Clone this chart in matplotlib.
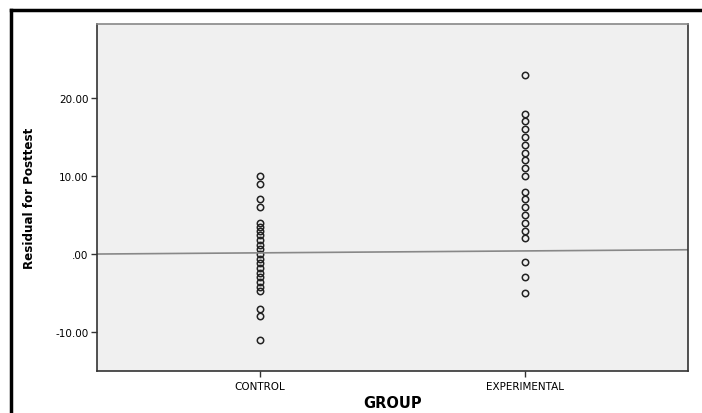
import matplotlib.pyplot as plt
import matplotlib.lines as mlines
import numpy as np

groups = ['CONTROL', 'EXPERIMENTAL']

control = [10, 9, 7, 6, 4, 3.5, 3, 2.4, 1.8, 1.2, 0.6, 0, -0.6, -1.2,
           -1.8, -2.4, -3, -3.6, -4.2, -4.8, -7, -8, -11]
experimental = [23, 18, 17, 16, 15, 14, 13, 12, 11, 10,
                8, 7, 6, 5, 4, 3, 2, -1, -3, -5]

# fit line ends (left / right edge of the axis)
line_ends = [0.0, 0.55]

fig = plt.figure(figsize=(7.02, 4.14), dpi=100)
ax = fig.add_axes([97/702, 1 - 372/414, (688-97)/702, (372-25)/414])
ax.set_facecolor('#f0f0f0')

xlim = (0.384, 2.616)
for i, vals in enumerate([control, experimental]):
    ax.plot([i + 1] * len(vals), vals, linestyle='none', marker='o',
            markersize=4.6, markerfacecolor='none', markeredgecolor='#222222',
            markeredgewidth=1.1)

ax.plot(xlim, line_ends, color='#888888', linewidth=1.2)

ax.set_xlim(*xlim)
ax.set_ylim(-15, 29.5)
ax.set_xticks([1, 2])
ax.set_xticklabels(groups, fontsize=7.5)
ax.set_yticks([-10, 0, 10, 20])
ax.set_yticklabels(['-10.00', '.00', '10.00', '20.00'], fontsize=7.5)
ax.tick_params(axis='both', direction='out', length=4, width=1, color='#333333')
ax.tick_params(axis='x', pad=3)
ax.tick_params(axis='y', pad=2)

for s in ['left', 'bottom']:
    ax.spines[s].set_color('#333333')
    ax.spines[s].set_linewidth(1.2)
ax.spines['top'].set_color('#888888')
ax.spines['top'].set_linewidth(1.2)
ax.spines['right'].set_color('#333333')
ax.spines['right'].set_linewidth(1.2)

ax.set_xlabel('GROUP', fontsize=10.5, fontweight='bold', labelpad=3)
ax.set_ylabel('Residual for Posttest', fontsize=9.5, fontweight='bold',
              family='DejaVu Sans', fontstretch='condensed', labelpad=14)

# outer frame of the figure
fig.add_artist(mlines.Line2D([11/702, 11/702], [0, 1 - 11/414], color='black',
                             linewidth=2.5, transform=fig.transFigure))
fig.add_artist(mlines.Line2D([11/702, 1], [1 - 11/414, 1 - 11/414], color='black',
                             linewidth=2.5, transform=fig.transFigure))

fig.savefig('out.png', dpi=100)
